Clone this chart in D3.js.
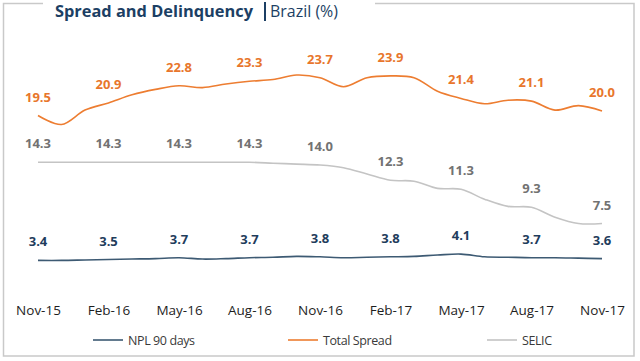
<!DOCTYPE html>
<html>
<head>
<meta charset="utf-8">
<script src="https://cdn.jsdelivr.net/npm/d3@7"></script>
<style>
  body { margin: 0; background: #fff; }
  svg { display: block; font-family: "Open Sans", sans-serif; }
</style>
</head>
<body>
<svg width="640" height="361"></svg>
<script>
// quarterly tick labels, data is monthly (Nov-15 .. Nov-17)
var tickLabels = ["Nov-15", "Feb-16", "May-16", "Aug-16", "Nov-16", "Feb-17", "May-17", "Aug-17", "Nov-17"];

var spread = [19.5, 18.5, 20.1, 20.9, 21.8, 22.4, 22.8, 22.6, 23.0, 23.3, 23.5, 24.0, 23.7,
              22.7, 23.7, 23.9, 23.7, 22.2, 21.4, 20.8, 21.2, 21.1, 20.1, 20.6, 20.0];
var selic = [14.3, 14.3, 14.3, 14.3, 14.3, 14.3, 14.3, 14.3, 14.3, 14.3, 14.2, 14.1, 14.0,
             13.7, 13.0, 12.3, 12.2, 11.4, 11.3, 10.2, 9.4, 9.3, 8.2, 7.5, 7.5];
var npl = [3.4, 3.4, 3.45, 3.5, 3.55, 3.6, 3.7, 3.55, 3.6, 3.7, 3.75, 3.85, 3.8,
           3.7, 3.75, 3.8, 3.85, 4.0, 4.1, 3.8, 3.75, 3.7, 3.7, 3.65, 3.6];

var seriesNames = ["NPL 90 days", "Total Spread", "SELIC"];

var svg = d3.select("svg");

var x = d3.scaleLinear().domain([0, 24]).range([38, 602]);
var y = d3.scaleLinear().domain([0, 25]).range([291, 66]);

// frame with a gap for the title
svg.append("path")
   .attr("d", "M43,3.5 H3.5 V356 H634 V3.5 H375")
   .attr("fill", "none")
   .attr("stroke", "#c9c9c9")
   .attr("stroke-width", 1.5);

// title
svg.append("text")
   .attr("x", 55).attr("y", 17)
   .attr("font-size", 16.5).attr("font-weight", "bold")
   .attr("fill", "#1c3f64")
   .attr("textLength", 198).attr("lengthAdjust", "spacingAndGlyphs")
   .text("Spread and Delinquency");
svg.append("line")
   .attr("x1", 265).attr("x2", 265).attr("y1", 2).attr("y2", 21)
   .attr("stroke", "#1c3f64").attr("stroke-width", 2);
svg.append("text")
   .attr("x", 270).attr("y", 17)
   .attr("font-size", 16)
   .attr("fill", "#1c3f64")
   .attr("textLength", 68).attr("lengthAdjust", "spacingAndGlyphs")
   .text("Brazil (%)");

var series = [
  { name: seriesNames[0], values: npl, color: "#3d5a73", label: "#1f3d5c" },
  { name: seriesNames[1], values: spread, color: "#ed7d31", label: "#e8762c" },
  { name: seriesNames[2], values: selic, color: "#c4c4c4", label: "#727272" }
];

var line = d3.line()
    .x(function(d, i) { return x(i); })
    .y(function(d) { return y(d); })
    .curve(d3.curveCatmullRom.alpha(0.5));

var quarter = d3.range(0, 25, 3);

series.forEach(function(s) {
  svg.append("path")
     .attr("d", line(s.values))
     .attr("fill", "none")
     .attr("stroke", s.color)
     .attr("stroke-width", 1.6);

  svg.selectAll(null)
     .data(quarter)
     .enter().append("text")
     .attr("x", function(i) { return x(i); })
     .attr("y", function(i) { return y(s.values[i]) - 14; })
     .attr("text-anchor", "middle")
     .attr("font-size", 13)
     .attr("font-weight", "bold")
     .attr("fill", s.label)
     .text(function(i) { return d3.format(".1f")(s.values[i]); });
});

// x axis
var xAxis = d3.axisBottom(x)
    .tickValues(quarter)
    .tickSize(0)
    .tickFormat(function(d, i) { return tickLabels[i]; });

var ax = svg.append("g")
    .attr("transform", "translate(0,302)")
    .call(xAxis);
ax.select(".domain").remove();
ax.selectAll("text")
  .attr("font-family", "Open Sans, sans-serif")
  .attr("font-size", 13.5)
  .attr("fill", "#1e1e1e");

// legend
var legendX = [93, 288, 487];
var legend = svg.selectAll(".lg")
    .data(series)
    .enter().append("g")
    .attr("class", "lg")
    .attr("transform", function(d, i) { return "translate(" + legendX[i] + ",340)"; });
legend.append("line")
    .attr("x1", 0).attr("x2", 30)
    .attr("stroke", function(d) { return d.color; })
    .attr("stroke-width", 1.6);
legend.append("text")
    .attr("x", 35).attr("y", 4.5)
    .attr("font-size", 12.5)
    .attr("letter-spacing", -0.4)
    .attr("fill", "#3a3a3a")
    .text(function(d) { return d.name; });
</script>
</body>
</html>
